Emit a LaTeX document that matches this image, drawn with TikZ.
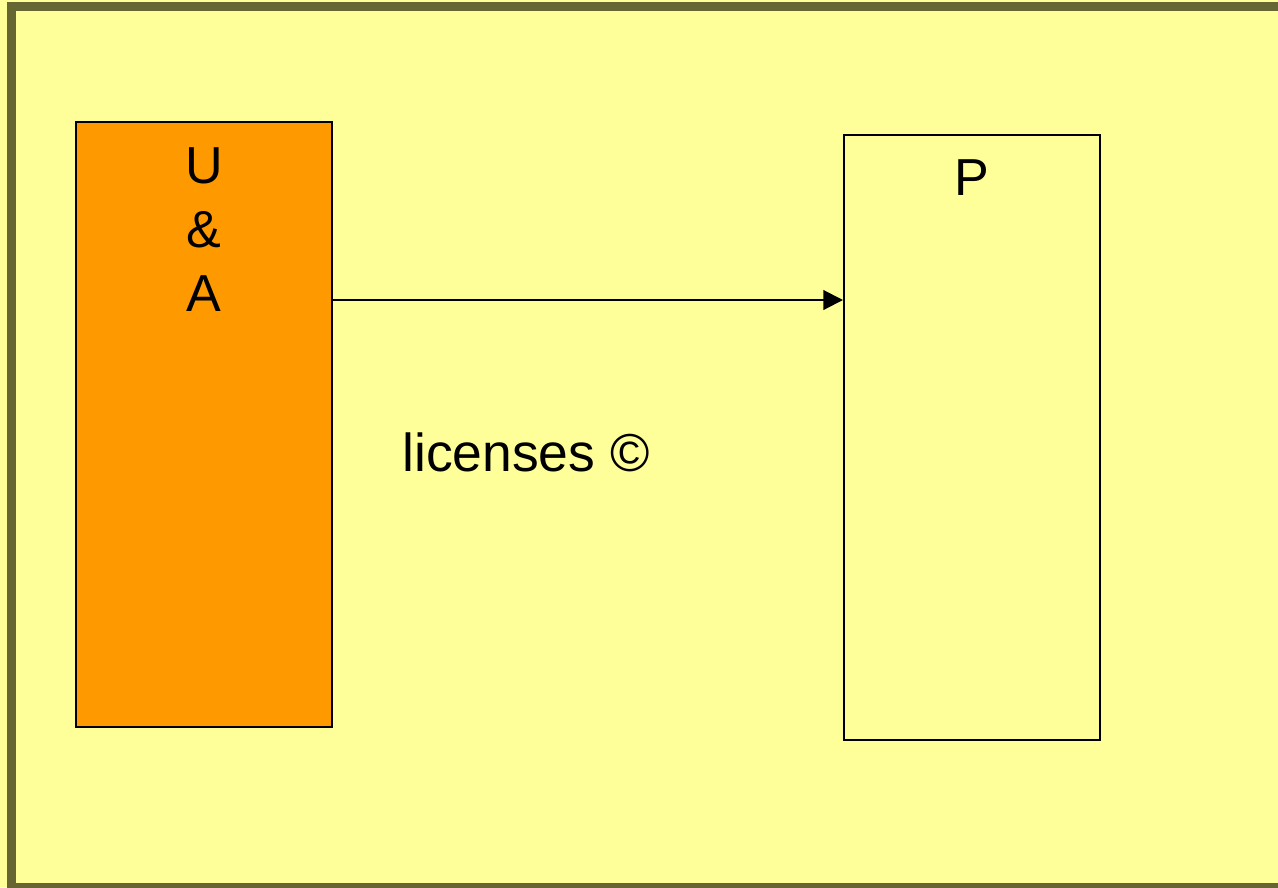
\documentclass[tikz,border=0pt]{standalone}
\usepackage{fontspec}
\setmainfont{Liberation Sans}
\usetikzlibrary{positioning, arrows.meta}

\definecolor{paper}{HTML}{FFFF99}
\definecolor{olive}{HTML}{666633}
\definecolor{orangebox}{HTML}{FF9900}

\begin{document}
\begin{tikzpicture}[
    x=0.01cm, y=-0.01cm,
    party/.style={draw, line width=0.45pt, minimum width=2.56cm, minimum height=6.05cm, inner sep=0pt},
    caption/.style={font=\fontsize{14.8}{18.2}\selectfont, align=center, inner sep=0pt}
]

% page and frame
\fill[paper] (0,0) rectangle (1278,887);
\useasboundingbox (0,0) rectangle (1278,887);
\begin{scope}
\clip (0,0) rectangle (1278,887);
\draw[olive, line width=2.6pt] (11.5,6.5) rectangle (1300,888);
\end{scope}

% boxes
\node[party, fill=orangebox, anchor=north west] (ua) at (75,121) {};
\node[party, anchor=north west] (p) at (843,134) {};

% texts
\node[caption, anchor=north] (uatext) at ([yshift=-0.26cm]ua.north) {U\\\&\\A};
\node[caption, anchor=north] (ptext) at ([yshift=-0.25cm]p.north) {P};
\node[caption, font=\fontsize{15.2}{18}\selectfont] (lic) at (526,452) {licenses ©};

% arrow
\draw[-{Triangle[length=5.6pt, width=5.6pt]}, line width=0.6pt] (ua.east |- 0,300) -- (p.west |- 0,300);

\end{tikzpicture}
\end{document}
